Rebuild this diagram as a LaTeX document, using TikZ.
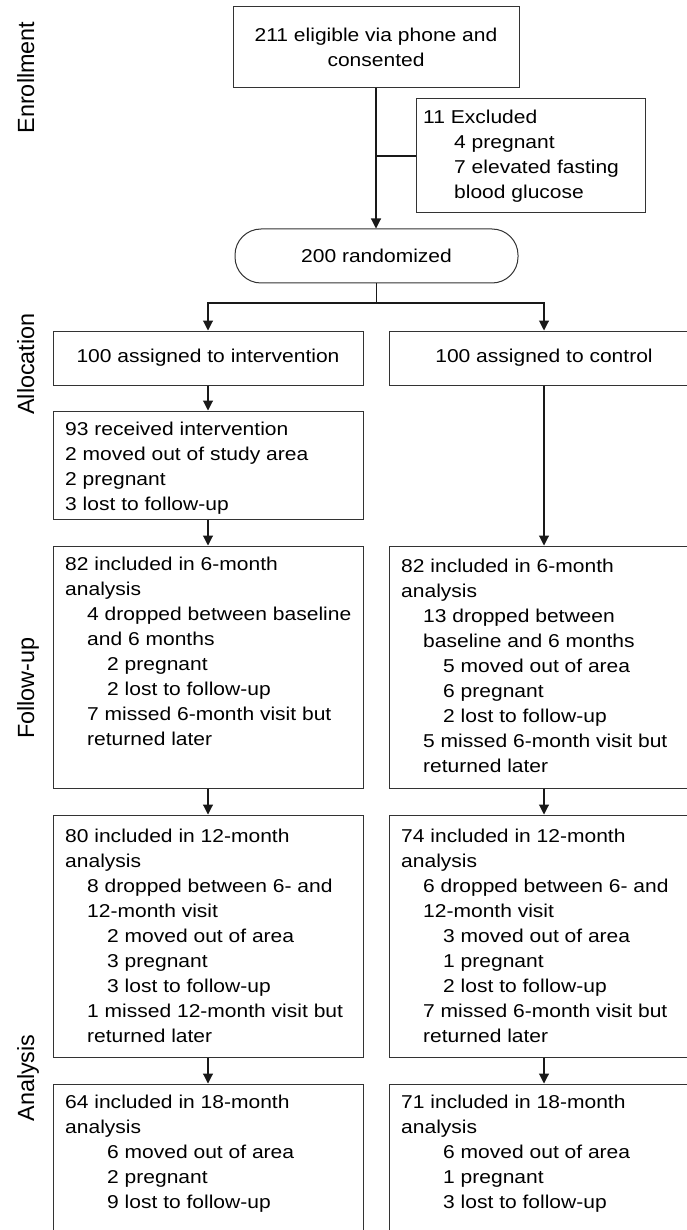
\documentclass[tikz,border=0pt]{standalone}
\usepackage{fontspec}
\setmainfont{Liberation Sans}[FakeStretch=1.13]
\newfontfamily\sidefont{Liberation Sans}
\usepackage{tikz}
\usetikzlibrary{arrows.meta}
\newcommand{\boxfont}{\fontsize{18.6}{25}\selectfont}
\newcommand{\indone}{\hspace*{22pt}}
\newcommand{\indtwo}{\hspace*{42pt}}
\tikzstyle{box}=[draw=black!80, line width=1pt, inner sep=0pt, font=\boxfont, align=center]
\tikzstyle{boxcol}=[box, minimum width=310pt]
\tikzstyle{txt}=[inner sep=0pt, anchor=north west, align=left, font=\boxfont]
\tikzstyle{side}=[rotate=90, anchor=base, font=\sidefont\fontsize{23.4}{28}\selectfont]
\tikzstyle{ln}=[line width=1.1pt, draw=black!90]
\tikzstyle{arr}=[ln, -{Triangle[length=10pt,width=10pt]}]

\begin{document}
\begin{tikzpicture}[x=1pt, y=-1pt]
    \useasboundingbox (0,0) rectangle (687,1230);
    \clip (0,0) rectangle (687,1230);

    \node[side] (lenrol) at (34,77.5) {Enrollment};
    \node[side] (lalloc) at (34,364) {Allocation};
    \node[side] (lfollow) at (34,688) {Follow-up};
    \node[side] (lanalys) at (34,1078) {Analysis};

    \node[box, minimum width=286pt, minimum height=81pt] (enrol) at (376,47.5) {211 eligible via phone and\\consented};
    \node[box, minimum width=229pt, minimum height=114pt] (excl) at (530.5,156) {};
    \node[txt] (exclt) at (423,109.4) {11 Excluded\\\hspace*{31pt}4 pregnant\\\hspace*{31pt}7 elevated fasting\\\hspace*{31pt}blood glucose};
    \node[box, rounded corners=26pt, minimum width=283pt, minimum height=54pt] (rand) at (376.5,256) {200 randomized};

    \node[boxcol, minimum height=54pt] (allocA) at (208,358) {100 assigned to intervention};
    \node[boxcol, minimum height=54pt] (allocB) at (544,358) {100 assigned to control};
    \node[boxcol, minimum height=108pt] (recvA) at (208,465) {};
    \node[txt] (recvAt) at (65,421.4) {93 received intervention\\2 moved out of study area\\2 pregnant\\3 lost to follow-up};

    \node[boxcol, minimum height=242pt] (sixA) at (208,667) {};
    \node[txt] (sixAt) at (65,556.4) {82 included in 6-month\\analysis\\\indone 4 dropped between baseline\\\indone and 6 months\\\indtwo 2 pregnant\\\indtwo 2 lost to follow-up\\\indone 7 missed 6-month visit but\\\indone returned later};
    \node[boxcol, minimum height=242pt] (sixB) at (544,667) {};
    \node[txt] (sixBt) at (401,558.4) {82 included in 6-month\\analysis\\\indone 13 dropped between\\\indone baseline and 6 months\\\indtwo 5 moved out of area\\\indtwo 6 pregnant\\\indtwo 2 lost to follow-up\\\indone 5 missed 6-month visit but\\\indone returned later};

    \node[boxcol, minimum height=242pt] (twelveA) at (208,936) {};
    \node[txt] (twelveAt) at (65,828.4) {80 included in 12-month\\analysis\\\indone 8 dropped between 6- and\\\indone 12-month visit\\\indtwo 2 moved out of area\\\indtwo 3 pregnant\\\indtwo 3 lost to follow-up\\\indone 1 missed 12-month visit but\\\indone returned later};
    \node[boxcol, minimum height=242pt] (twelveB) at (544,936) {};
    \node[txt] (twelveBt) at (401,828.4) {74 included in 12-month\\analysis\\\indone 6 dropped between 6- and\\\indone 12-month visit\\\indtwo 3 moved out of area\\\indtwo 1 pregnant\\\indtwo 2 lost to follow-up\\\indone 7 missed 6-month visit but\\\indone returned later};

    \node[boxcol, minimum height=216pt] (eightA) at (208,1192) {};
    \node[txt] (eightAt) at (65,1094.4) {64 included in 18-month\\analysis\\\indtwo 6 moved out of area\\\indtwo 2 pregnant\\\indtwo 9 lost to follow-up};
    \node[boxcol, minimum height=216pt] (eightB) at (544,1192) {};
    \node[txt] (eightBt) at (401,1094.4) {71 included in 18-month\\analysis\\\indtwo 6 moved out of area\\\indtwo 1 pregnant\\\indtwo 3 lost to follow-up};

    \draw[arr] (enrol.south) -- (enrol.south |- rand.north);
    \draw[ln] (enrol.south |- excl.west) -- (excl.west);
    \coordinate (split) at (376.5,303);
    \draw[ln] (rand.south) -- (split);
    \draw[arr] (split) -| (allocA.north);
    \draw[arr] (split) -| (allocB.north);
    \draw[arr] (allocA) -- (recvA);
    \draw[arr] (recvA) -- (sixA);
    \draw[arr] (allocB) -- (sixB);
    \draw[arr] (sixA) -- (twelveA);
    \draw[arr] (sixB) -- (twelveB);
    \draw[arr] (twelveA) -- (eightA);
    \draw[arr] (twelveB) -- (eightB);

\end{tikzpicture}
\end{document}
